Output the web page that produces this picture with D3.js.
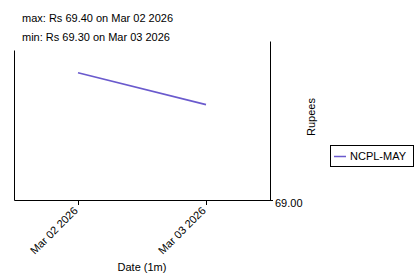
<!DOCTYPE html>
<html>
<head>
<meta charset="utf-8">
<script src="https://cdn.jsdelivr.net/npm/d3@7"></script>
<style>
  body { margin: 0; background: #fff; }
  svg { font-family: "Liberation Sans", Arial, sans-serif; }
</style>
</head>
<body>
<div id="chart"></div>
<script>
// data
var dates = ["2026-03-02", "2026-03-03"];
var prices = [69.40, 69.30];
var seriesName = "NCPL-MAY";
var yTicks = [69.00];
var yDomain = [69.00, 69.50];
var summary = ["max: Rs 69.40 on Mar 02 2026", "min: Rs 69.30 on Mar 03 2026"];

var width = 415, height = 275;
var plotLeft = 14, plotRight = 270, plotTop = 41, plotBottom = 200;

var parse = d3.timeParse("%Y-%m-%d");
var data = dates.map(function (d, i) { return { date: parse(d), value: prices[i] }; });

var svg = d3.select("#chart").append("svg")
    .attr("width", width)
    .attr("height", height);

// half a day of padding either side
var x = d3.scaleTime()
    .domain([d3.timeHour.offset(data[0].date, -12), d3.timeHour.offset(data[data.length - 1].date, 12)])
    .range([plotLeft, plotRight]);

var y = d3.scaleLinear()
    .domain(yDomain)
    .range([plotBottom, plotTop]);

// summary text
svg.selectAll(".summary")
    .data(summary)
    .enter().append("text")
    .attr("class", "summary")
    .attr("x", 22)
    .attr("y", function (d, i) { return 22 + i * 19; })
    .style("font-size", "11px")
    .text(function (d) { return d; });

// left axis (just the line)
svg.append("g")
    .attr("transform", "translate(" + plotLeft + ",0)")
    .call(d3.axisLeft(d3.scaleLinear().range([plotBottom, 50])).tickValues([]).tickSizeOuter(0));

// bottom axis
var xAxis = svg.append("g")
    .attr("transform", "translate(0," + plotBottom + ")")
    .call(d3.axisBottom(x)
        .tickValues(data.map(function (d) { return d.date; }))
        .tickFormat(d3.timeFormat("%b %d %Y"))
        .tickSize(5)
        .tickSizeOuter(0));
xAxis.selectAll("text")
    .style("font-size", "11px")
    .style("fill", "#000")
    .attr("text-anchor", "end")
    .attr("x", 0)
    .attr("y", 0)
    .attr("dx", "-8px")
    .attr("dy", "8px")
    .attr("transform", "rotate(-45)");

// right axis
var yAxis = svg.append("g")
    .attr("transform", "translate(" + plotRight + ",0)")
    .call(d3.axisRight(y)
        .tickValues(yTicks)
        .tickFormat(d3.format(".2f"))
        .tickSize(3)
        .tickPadding(2)
        .tickSizeOuter(0));
yAxis.selectAll("text")
    .style("font-size", "11px")
    .style("fill", "#000")
    .attr("dy", "0.6em");
svg.selectAll(".domain, .tick line").attr("stroke", "#000");

// the series
var line = d3.line()
    .x(function (d) { return x(d.date); })
    .y(function (d) { return y(d.value); });

svg.append("path")
    .datum(data)
    .attr("fill", "none")
    .attr("stroke", "#6a5acd")
    .attr("stroke-width", 1.6)
    .attr("d", line);

// axis titles
svg.append("text")
    .attr("x", (plotLeft + plotRight) / 2)
    .attr("y", 271)
    .attr("text-anchor", "middle")
    .style("font-size", "11px")
    .text("Date (1m)");

svg.append("text")
    .attr("transform", "translate(315,117) rotate(-90)")
    .attr("text-anchor", "middle")
    .style("font-size", "11px")
    .text("Rupees");

// legend
var legend = svg.append("g").attr("transform", "translate(330,145)");
legend.append("rect")
    .attr("x", 0.5).attr("y", 0.5)
    .attr("width", 83).attr("height", 21)
    .attr("fill", "#fff")
    .attr("stroke", "#000");
legend.append("line")
    .attr("x1", 4).attr("x2", 16)
    .attr("y1", 11.5).attr("y2", 11.5)
    .attr("stroke", "#6a5acd")
    .attr("stroke-width", 1.5);
legend.append("text")
    .attr("x", 20)
    .attr("y", 15)
    .style("font-size", "11px")
    .text(seriesName);
</script>
</body>
</html>
